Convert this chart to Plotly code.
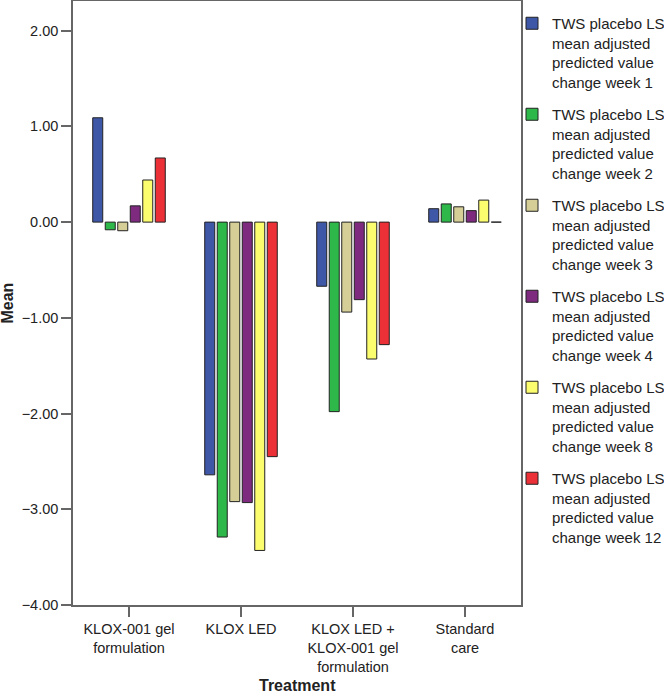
import plotly.graph_objects as go

categories = ["KLOX-001 gel<br>formulation", "KLOX LED", "KLOX LED +<br>KLOX-001 gel<br>formulation", "Standard<br>care"]
series_names = [
    "TWS placebo LS<br>mean adjusted<br>predicted value<br>change week 1",
    "TWS placebo LS<br>mean adjusted<br>predicted value<br>change week 2",
    "TWS placebo LS<br>mean adjusted<br>predicted value<br>change week 3",
    "TWS placebo LS<br>mean adjusted<br>predicted value<br>change week 4",
    "TWS placebo LS<br>mean adjusted<br>predicted value<br>change week 8",
    "TWS placebo LS<br>mean adjusted<br>predicted value<br>change week 12",
]
week1 = [1.09, -2.64, -0.67, 0.14]
week2 = [-0.08, -3.29, -1.98, 0.19]
week3 = [-0.09, -2.92, -0.94, 0.16]
week4 = [0.17, -2.93, -0.81, 0.12]
week8 = [0.44, -3.43, -1.43, 0.23]
week12 = [0.67, -2.45, -1.28, 0.0]
series_values = [week1, week2, week3, week4, week8, week12]
colors = ["#3F57A7", "#2EB84A", "#D6CE97", "#7D2A7F", "#FCFC6F", "#EC3038"]
y_tickvals = [-4, -3, -2, -1, 0, 1, 2]

fig = go.Figure()
for i, (name, vals, col) in enumerate(zip(series_names, series_values, colors)):
    fig.add_trace(go.Bar(
        x=categories, y=vals, name=name, legendgroup=f"g{i}",
        marker=dict(color=col, line=dict(color="#222222", width=1)),
    ))

FONT = "Liberation Sans, Arial, sans-serif"
L, R, T, B = 73, 143, 1, 89
W, H = 664, 694
pw = W - L - R
ph = H - T - B

fig.update_layout(
    width=W, height=H,
    margin=dict(l=L, r=R, t=T, b=B, autoexpand=False),
    paper_bgcolor="white", plot_bgcolor="white",
    barmode="group", bargap=0.33, bargroupgap=0.2,
    font=dict(family=FONT, size=14, color="#222222"),
    showlegend=True,
    legend=dict(x=(512 - L) / pw, xanchor="left", y=1 - 6 / ph, yanchor="top",
                font=dict(size=15, color="#222222"), valign="top",
                tracegroupgap=10, traceorder="grouped",
                bgcolor="rgba(0,0,0,0)"),
    xaxis=dict(range=[-0.5, 3.5], showline=True, linecolor="#666666", linewidth=1.5,
               mirror=True, ticks="outside", ticklen=10, tickcolor="#666666",
               tickwidth=1.5, tickfont=dict(size=14.5, color="#222222"), showgrid=False),
    yaxis=dict(range=[-4, 2.31], tickvals=y_tickvals, tickformat=".2f",
               showline=True, linecolor="#666666", linewidth=1.5, mirror=True,
               ticks="outside", ticklen=10, tickcolor="#666666", tickwidth=1.5,
               tickfont=dict(size=14.5, color="#222222"), showgrid=False, zeroline=False),
    annotations=[
        dict(text="<b>Mean</b>", x=(6.5 - L) / pw, y=(H - B - 303) / ph,
             xref="paper", yref="paper", xanchor="center", yanchor="middle",
             showarrow=False, textangle=-90, font=dict(size=16, color="#222222")),
        dict(text="<b>Treatment</b>", x=(297 - L) / pw, y=(H - B - 685) / ph,
             xref="paper", yref="paper", xanchor="center", yanchor="middle",
             showarrow=False, font=dict(size=16, color="#222222")),
    ],
)

fig.write_html(
    "out.html",
    config={"displayModeBar": False},
    post_script="document.body.style.margin='0';document.body.style.overflow='hidden';",
)
